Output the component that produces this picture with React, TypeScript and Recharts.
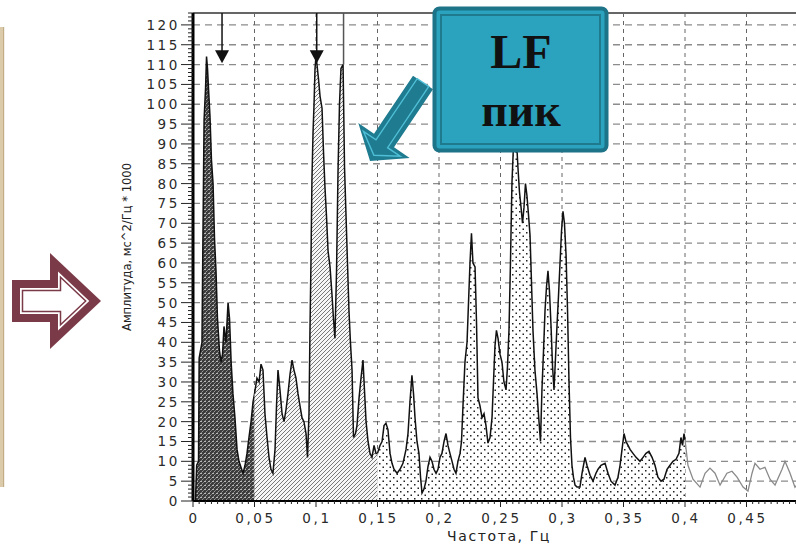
import React from 'react';
import {
  AreaChart,
  Area,
  XAxis,
  YAxis,
  CartesianGrid,
  ReferenceLine,
  ReferenceDot,
} from 'recharts';

// ---- Spectrum data (frequency, Hz / amplitude, ms^2/Hz*1000) ----
const vlfFreq = [0.002, 0.003, 0.0045, 0.005, 0.0073, 0.008, 0.009, 0.0102, 0.011, 0.0118, 0.0126, 0.0138, 0.015, 0.0163, 0.0175, 0.0187, 0.0199, 0.0215, 0.0228, 0.024, 0.0252, 0.0268, 0.0285, 0.0297, 0.031, 0.0325, 0.0341, 0.0358, 0.0374, 0.039, 0.0407, 0.0423, 0.0439, 0.0455, 0.0472, 0.0488, 0.05];
const vlfAmp = [0, 9, 10, 36, 40, 64, 96, 104, 112, 109, 104, 97, 86, 80, 66, 58, 46, 38, 35, 37, 44, 40, 50, 46, 35, 27, 21, 13, 10, 8.5, 7, 9, 12, 16, 20, 25, 27];

const lfFreq = [0.05, 0.052, 0.0537, 0.0553, 0.0569, 0.0585, 0.0602, 0.0618, 0.0634, 0.065, 0.0667, 0.0679, 0.0691, 0.0707, 0.0724, 0.074, 0.0756, 0.0772, 0.0789, 0.0805, 0.0821, 0.0837, 0.0854, 0.087, 0.0886, 0.0902, 0.0919, 0.0931, 0.0943, 0.0951, 0.0959, 0.0967, 0.0976, 0.0984, 0.0992, 0.1, 0.1008, 0.102, 0.1033, 0.1049, 0.1061, 0.1073, 0.1085, 0.1098, 0.1114, 0.113, 0.1142, 0.1154, 0.1167, 0.1179, 0.1191, 0.1203, 0.122, 0.1232, 0.1244, 0.1256, 0.1268, 0.128, 0.1293, 0.1305, 0.1321, 0.1333, 0.135, 0.1366, 0.1382, 0.1394, 0.1407, 0.1423, 0.1439, 0.1455, 0.1472, 0.1488, 0.15];
const lfAmp = [27, 31, 30, 34.5, 33, 22, 16, 11, 8, 7, 13, 24, 33, 28, 22, 20, 23, 27, 32, 35.5, 33, 31, 27, 24, 21, 20, 17, 11, 22, 43, 60, 81, 93, 100, 109, 112, 110, 106.5, 102, 99, 88, 79, 72, 63, 59, 52, 46, 41, 58, 83, 100, 109, 110, 84, 72, 60, 48, 40, 33, 16, 17, 19, 26, 31, 35.5, 28, 20, 15, 12, 11, 14, 12, 12];

const hfFreq = [0.15, 0.152, 0.1537, 0.1553, 0.1569, 0.1585, 0.1602, 0.1618, 0.1634, 0.1659, 0.1683, 0.1707, 0.1732, 0.1748, 0.1764, 0.178, 0.1793, 0.1805, 0.1821, 0.1837, 0.185, 0.1862, 0.1878, 0.1894, 0.191, 0.1927, 0.1943, 0.1959, 0.1976, 0.1992, 0.2008, 0.2024, 0.2041, 0.2057, 0.2073, 0.2089, 0.2106, 0.2122, 0.2138, 0.2154, 0.2171, 0.2183, 0.2195, 0.2211, 0.2228, 0.224, 0.2252, 0.2264, 0.2276, 0.2293, 0.2305, 0.2317, 0.2333, 0.235, 0.2366, 0.2382, 0.2398, 0.2415, 0.2431, 0.2443, 0.2455, 0.2467, 0.248, 0.2496, 0.2512, 0.2528, 0.2545, 0.2557, 0.2569, 0.2581, 0.2593, 0.2606, 0.2618, 0.263, 0.2642, 0.2654, 0.2667, 0.2679, 0.2691, 0.2703, 0.2715, 0.2728, 0.274, 0.2752, 0.2764, 0.278, 0.2797, 0.2813, 0.2825, 0.2837, 0.285, 0.2862, 0.2874, 0.2886, 0.2898, 0.2911, 0.2923, 0.2935, 0.2947, 0.2959, 0.2972, 0.2984, 0.2996, 0.3008, 0.302, 0.3033, 0.3045, 0.3057, 0.3069, 0.3081, 0.3093, 0.3106, 0.3122, 0.3146, 0.3163, 0.3187, 0.3203, 0.3228, 0.3252, 0.3276, 0.3293, 0.3317, 0.335, 0.3374, 0.3398, 0.3431, 0.3455, 0.3472, 0.3488, 0.3504, 0.352, 0.3537, 0.3553, 0.3577, 0.3602, 0.3634, 0.3659, 0.3683, 0.3707, 0.3732, 0.3756, 0.378, 0.3805, 0.3829, 0.3854, 0.3878, 0.3902, 0.3927, 0.3951, 0.3967, 0.398, 0.3992, 0.4];
const hfAmp = [12, 14, 15, 19, 19.6, 18, 12, 9.5, 8, 7, 8, 9.5, 13, 17, 25, 31.7, 27, 21, 15, 12, 6, 2, 3, 5, 8.6, 11, 10, 8, 7, 8, 11, 12, 15, 17, 14, 12, 10, 8, 7, 10, 12, 15, 24, 35, 40, 50, 60, 67.5, 60, 59, 45, 26, 24, 21, 22, 19, 14.6, 16, 21, 30, 39, 43, 41, 37, 35, 30, 28, 34, 43, 60, 80, 90, 94, 91, 84, 78, 74, 70, 74, 80, 77, 72, 67, 55, 43, 33, 27, 20, 15, 28, 38, 48, 54, 58, 53, 44, 34, 28, 36, 44, 52, 60, 68, 73, 70, 62, 48, 30, 16, 9, 6, 4, 3.5, 3.5, 7, 11, 9, 6.5, 5, 7, 8, 9, 9.5, 7, 5, 4, 6, 9, 13, 17, 15, 14, 13, 12, 11, 10, 11, 12, 12.5, 11, 9, 6, 5, 5.5, 8, 9, 10, 10.5, 12, 16, 14, 17, 15.5];

const tailFreq = [0.4, 0.4024, 0.4065, 0.4122, 0.4163, 0.4203, 0.4244, 0.4285, 0.4341, 0.4382, 0.4423, 0.4472, 0.4512, 0.4545, 0.4569, 0.461, 0.465, 0.4691, 0.4732, 0.4789, 0.4813, 0.4854, 0.4894, 0.4935];
const tailAmp = [15.5, 9, 5.5, 3.5, 7, 8.3, 7, 4, 7, 7.5, 6, 3.5, 2.5, 7, 9.5, 8, 8.5, 5.5, 4, 8, 10, 7, 3.5, 5];

// ---- Axes, grid and markers ----
const xTicks = Array.from({ length: 100 }, (_, i) => i / 200);
const yTicks = Array.from({ length: 124 }, (_, i) => i);
const gridYValues = [5, 10, 15, 20, 25, 30, 35, 40, 45, 50, 55, 60, 65, 70, 75, 80, 85, 90, 95, 100, 105, 110, 115, 120];
const gridXValues = [0.05, 0.1, 0.15, 0.2, 0.25, 0.3, 0.35, 0.4, 0.45];
const arrowFreqs = [0.0236, 0.1006];
const markerFreq = 0.1224;
const Y_MAX = 123;

const xLabel = 'Частота, Гц';
const yLabel = 'Амплитуда, мс^2/Гц * 1000';
const boxTitle = 'LF';
const boxSub = 'пик';

type Row = { f: number; vlf?: number; lf?: number; hf?: number; tail?: number };
const rows: Row[] = [
  ...vlfFreq.map((f, i) => ({ f, vlf: vlfAmp[i] })),
  ...lfFreq.map((f, i) => ({ f, lf: lfAmp[i] })),
  ...hfFreq.map((f, i) => ({ f, hf: hfAmp[i] })),
  ...tailFreq.map((f, i) => ({ f, tail: tailAmp[i] })),
];

const tickFont = { fontFamily: 'DejaVu Sans, Verdana, sans-serif', fontSize: 13.5, letterSpacing: 2.6, fill: '#2a2a2a' };

const YTick = (props: any) => {
  const { x, y, payload } = props;
  const v = payload.value as number;
  const major = v % 5 === 0;
  return (
    <g>
      <line x1={x - (major ? 12 : 5)} x2={x} y1={y} y2={y} stroke="#222" strokeWidth={1} />
      {major && (
        <text x={x - 13} y={y + 5} textAnchor="end" {...tickFont}>
          {v}
        </text>
      )}
    </g>
  );
};

const XTick = (props: any) => {
  const { x, y, payload } = props;
  const v = payload.value as number;
  const k = Math.round(v * 1000);
  const major = k % 50 === 0;
  const label = String(Number(v.toFixed(2))).replace('.', ',');
  return (
    <g>
      <line x1={x} x2={x} y1={y} y2={y + (major ? 6 : 3)} stroke="#222" strokeWidth={1} />
      {major && (
        <text x={x + 1} y={y + 22} textAnchor="middle" {...tickFont}>
          {label}
        </text>
      )}
    </g>
  );
};

const ArrowHead = (props: any) => {
  const { cx, cy } = props;
  return <polygon points={`${cx - 7},${cy - 6.5} ${cx + 7},${cy - 6.5} ${cx},${cy + 6.5}`} fill="#111" />;
};

export default function App() {
  return (
    <div
      style={{
        position: 'fixed',
        left: 0,
        top: 0,
        width: 796,
        height: 544,
        overflow: 'hidden',
        background: '#fff',
      }}
    >
      <AreaChart width={812} height={544} data={rows} margin={{ top: 13, right: 4, bottom: 0, left: 0 }}>
        <defs>
          <pattern id="pVLF" width="4" height="4" patternUnits="userSpaceOnUse">
            <rect width="4" height="4" fill="#3c3c3c" />
            <rect x="0" y="1" width="2" height="1" fill="#b8b8b8" />
            <rect x="2" y="3" width="1" height="1" fill="#9a9a9a" />
            <rect x="1" y="0" width="1" height="1" fill="#7a7a7a" />
            <rect x="3" y="2" width="1" height="1" fill="#7a7a7a" />
          </pattern>
          <pattern id="pLF" width="4" height="4" patternUnits="userSpaceOnUse">
            <rect width="4" height="4" fill="#f6f6f6" />
            <path d="M-1,1 l2,-2 M0,4 l4,-4 M3,5 l2,-2" stroke="#6a6a6a" strokeWidth="0.9" />
          </pattern>
          <pattern id="pHF" width="7" height="7" patternUnits="userSpaceOnUse">
            <rect width="7" height="7" fill="#fff" />
            <rect x="1" y="1" width="1.5" height="1.5" fill="#222" />
            <rect x="4.5" y="4.5" width="1.5" height="1.5" fill="#222" />
          </pattern>
        </defs>
        <CartesianGrid
          horizontal
          vertical={false}
          horizontalValues={gridYValues}
          stroke="#8c8c8c"
          strokeWidth={1.3}
          strokeDasharray="7 5"
          fill="none"
        />
        <CartesianGrid
          horizontal={false}
          vertical
          verticalValues={gridXValues}
          stroke="#666"
          strokeWidth={1}
          strokeDasharray="4 4"
          fill="none"
        />
        <XAxis
          dataKey="f"
          type="number"
          domain={[0, 0.5]}
          ticks={xTicks}
          interval={0}
          height={43}
          tickSize={0}
          tickMargin={0}
          tickLine={false}
          tick={<XTick />}
          axisLine={{ stroke: '#000', strokeWidth: 2 }}
          allowDataOverflow
        />
        <YAxis
          type="number"
          domain={[0, Y_MAX]}
          ticks={yTicks}
          interval={0}
          width={193}
          tickSize={0}
          tickMargin={0}
          tickLine={false}
          tick={<YTick />}
          axisLine={{ stroke: '#000', strokeWidth: 3 }}
          allowDataOverflow
        />
        <Area type="linear" dataKey="vlf" stroke="#111" strokeWidth={1.5} fill="url(#pVLF)" fillOpacity={1} isAnimationActive={false} dot={false} activeDot={false} />
        <Area type="linear" dataKey="lf" stroke="#111" strokeWidth={1.5} fill="url(#pLF)" fillOpacity={1} isAnimationActive={false} dot={false} activeDot={false} />
        <Area type="linear" dataKey="hf" stroke="#111" strokeWidth={1.5} fill="url(#pHF)" fillOpacity={1} isAnimationActive={false} dot={false} activeDot={false} />
        <Area type="linear" dataKey="tail" stroke="#8a8a8a" strokeWidth={1.3} fill="none" isAnimationActive={false} dot={false} activeDot={false} />
        <ReferenceLine y={Y_MAX} stroke="#666" strokeWidth={2} />
        <ReferenceLine
          segment={[
            { x: markerFreq, y: 110 },
            { x: markerFreq, y: Y_MAX },
          ]}
          stroke="#555"
          strokeWidth={1.5}
        />
        {arrowFreqs.map((f) => (
          <ReferenceLine
            key={`l${f}`}
            segment={[
              { x: f, y: 113 },
              { x: f, y: Y_MAX },
            ]}
            stroke="#111"
            strokeWidth={1.5}
          />
        ))}
        {arrowFreqs.map((f) => (
          <ReferenceDot key={`d${f}`} x={f} y={112} r={7} shape={<ArrowHead />} />
        ))}
      </AreaChart>

      <svg
        width={796}
        height={544}
        style={{ position: 'absolute', left: 0, top: 0, pointerEvents: 'none' }}
      >
        {/* left beige edge */}
        <rect x={0} y={27} width={4} height={460} fill="#dccbaa" />
        <rect x={3} y={27} width={1.2} height={460} fill="#c2ad86" />

        {/* maroon outline arrow */}
        <polygon points="12,280 50,280 50,253 101,301 50,349 50,322 12,322" fill="#7b3a48" />
        <polygon points="20,288 58,288 58,271.5 89.3,301 58,330.5 58,314 20,314" fill="#fff" />
        <polygon
          points="22.5,290.5 60.5,290.5 60.5,277.3 85.7,301 60.5,324.7 60.5,311.5 22.5,311.5"
          fill="none"
          stroke="#7b3a48"
          strokeWidth={1.5}
        />

        {/* axis titles */}
        <text
          x={0}
          y={0}
          transform="translate(131,247) rotate(-90)"
          textAnchor="middle"
          fontFamily="Liberation Sans Narrow, DejaVu Sans Condensed, sans-serif"
          fontSize={13}
          textLength={168}
          lengthAdjust="spacingAndGlyphs"
          fill="#222"
        >
          {yLabel}
        </text>
        <text
          x={499}
          y={541}
          textAnchor="middle"
          fontFamily="DejaVu Sans, Verdana, sans-serif"
          fontSize={14}
          letterSpacing={1.6}
          fill="#222"
        >
          {xLabel}
        </text>

        {/* teal arrow */}
        <polygon
          points="433,89.2 394,147.2 409.7,157.9 370,161 358.3,123.1 374,133.8 413,75.8"
          fill="#1f7b8f"
        />
        <polygon
          points="428.8,86.4 387.6,147.7 400.1,156.1 373.9,155.2 363.5,131.5 376,139.9 417.2,78.6"
          fill="none"
          stroke="#4fbfd7"
          strokeWidth={1.4}
        />

        {/* LF box */}
        <rect x={434.5} y={8.5} width={172} height={142} rx={5} fill="#2ba2be" stroke="#1d7387" strokeWidth={4} />
        <rect x={441} y={15} width={159} height={129} fill="none" stroke="#1f7a8d" strokeWidth={2} />
        <text
          x={521}
          y={68}
          textAnchor="middle"
          fontFamily="Liberation Serif, Times New Roman, serif"
          fontWeight="bold"
          fontSize={48}
          fill="#111"
        >
          {boxTitle}
        </text>
        <text
          x={521}
          y={126}
          textAnchor="middle"
          fontFamily="Liberation Serif, Times New Roman, serif"
          fontWeight="bold"
          fontSize={46}
          fill="#111"
        >
          {boxSub}
        </text>
      </svg>
    </div>
  );
}
